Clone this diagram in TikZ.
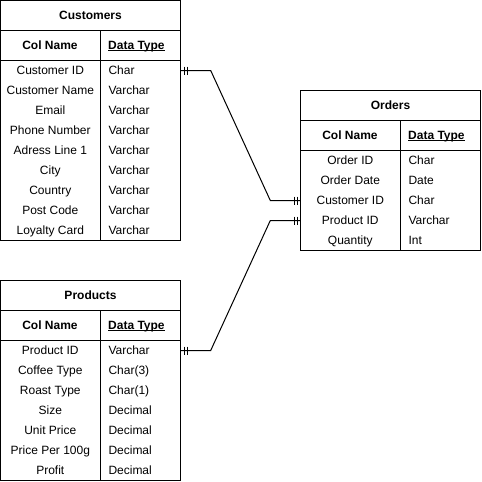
\documentclass[tikz,border=0pt]{standalone}
\usepackage{fontspec}
\setmainfont{Liberation Sans}
\usetikzlibrary{calc}
\newcommand{\ulin}[1]{\setbox0\hbox{#1}\rlap{\vrule width\wd0 height -1.1pt depth 2.1pt}\box0}
\newcommand{\erticks}[3]{%
  \draw[ln] ($(#1)+(#2,-4)$) -- ++(0,8);
  \draw[ln] ($(#1)+(#3,-4)$) -- ++(0,8);}
\begin{document}
\begin{tikzpicture}[x=1pt,y=-1pt,
  ln/.style={line width=1pt,draw=black},
  titlebox/.style={ln,minimum width=180pt,minimum height=30pt,inner sep=0pt,font=\fontsize{12}{14}\selectfont\bfseries,text height=8.6pt,text depth=1.2pt},
  headbox/.style={ln,minimum width=180pt,minimum height=30pt,inner sep=0pt},
  bodybox/.style={ln,minimum width=180pt,inner sep=0pt},
  rowbox/.style={minimum width=180pt,minimum height=20pt,inner sep=0pt},
  cn/.style={inner sep=0pt,anchor=center,font=\fontsize{12}{14}\selectfont,text height=8.6pt,text depth=1.2pt},
  ct/.style={inner sep=0pt,anchor=west,font=\fontsize{12}{14}\selectfont,text height=8.6pt,text depth=1.2pt},
  hn/.style={cn,font=\fontsize{12}{14}\selectfont\bfseries},
  ht/.style={ct,font=\fontsize{12}{14}\selectfont\bfseries}]
\useasboundingbox (0,0) rectangle (482,482);

% ---------- Customers ----------
\node[titlebox] (cust) at (90.5,15.5) {Customers};
\node[headbox] (custh) at (90.5,45.5) {};
\node[bodybox,minimum height=180pt] (custb) at (90.5,150.5) {};
\draw[ln] ($(custh.north west)+(100,0)$) -- ($(custb.south west)+(100,0)$);
\node[hn] (custhn) at ($(custh.west)+(50,0)$) {Col Name};
\node[ht] (custht) at ($(custh.west)+(108,0)$) {\ulin{Data Type}};
\foreach \n/\t [count=\i] in {Customer ID/Char,Customer Name/Varchar,Email/Varchar,Phone Number/Varchar,Adress Line 1/Varchar,City/Varchar,Country/Varchar,Post Code/Varchar,Loyalty Card/Varchar}{
  \node[rowbox] (cust-\i) at (90.5,50.5+20*\i) {};
  \node[cn] (cust-\i-n) at ($(cust-\i.west)+(50,0)$) {\n};
  \node[ct] (cust-\i-t) at ($(cust-\i.west)+(108,0)$) {\t};
}

% ---------- Orders ----------
\node[titlebox] (ord) at (390.5,105.5) {Orders};
\node[headbox] (ordh) at (390.5,135.5) {};
\node[bodybox,minimum height=100pt] (ordb) at (390.5,200.5) {};
\draw[ln] ($(ordh.north west)+(100,0)$) -- ($(ordb.south west)+(100,0)$);
\node[hn] (ordhn) at ($(ordh.west)+(50,0)$) {Col Name};
\node[ht] (ordht) at ($(ordh.west)+(108,0)$) {\ulin{Data Type}};
\foreach \n/\t [count=\i] in {Order ID/Char,Order Date/Date,Customer ID/Char,Product ID/Varchar,Quantity/Int}{
  \node[rowbox] (ord-\i) at (390.5,140.5+20*\i) {};
  \node[cn] (ord-\i-n) at ($(ord-\i.west)+(50,0)$) {\n};
  \node[ct] (ord-\i-t) at ($(ord-\i.west)+(108,0)$) {\t};
}

% ---------- Products ----------
\node[titlebox] (prod) at (90.5,295.5) {Products};
\node[headbox] (prodh) at (90.5,325.5) {};
\node[bodybox,minimum height=140pt] (prodb) at (90.5,410.5) {};
\draw[ln] ($(prodh.north west)+(100,0)$) -- ($(prodb.south west)+(100,0)$);
\node[hn] (prodhn) at ($(prodh.west)+(50,0)$) {Col Name};
\node[ht] (prodht) at ($(prodh.west)+(108,0)$) {\ulin{Data Type}};
\foreach \n/\t [count=\i] in {Product ID/Varchar,Coffee Type/Char(3),Roast Type/Char(1),Size/Decimal,Unit Price/Decimal,Price Per 100g/Decimal,Profit/Decimal}{
  \node[rowbox] (prod-\i) at (90.5,330.5+20*\i) {};
  \node[cn] (prod-\i-n) at ($(prod-\i.west)+(50,0)$) {\n};
  \node[ct] (prod-\i-t) at ($(prod-\i.west)+(108,0)$) {\t};
}

% ---------- Connectors ----------
\draw[ln] (cust-1.east) -- ++(30,0) -- ($(ord-3.west)+(-30,0)$) -- (ord-3.west);
\draw[ln] (prod-1.east) -- ++(30,0) -- ($(ord-4.west)+(-30,0)$) -- (ord-4.west);
\erticks{cust-1.east}{3.3}{6.3}
\erticks{prod-1.east}{3.3}{6.3}
\erticks{ord-3.west}{-3.3}{-6.3}
\erticks{ord-4.west}{-3.3}{-6.3}
\end{tikzpicture}
\end{document}
